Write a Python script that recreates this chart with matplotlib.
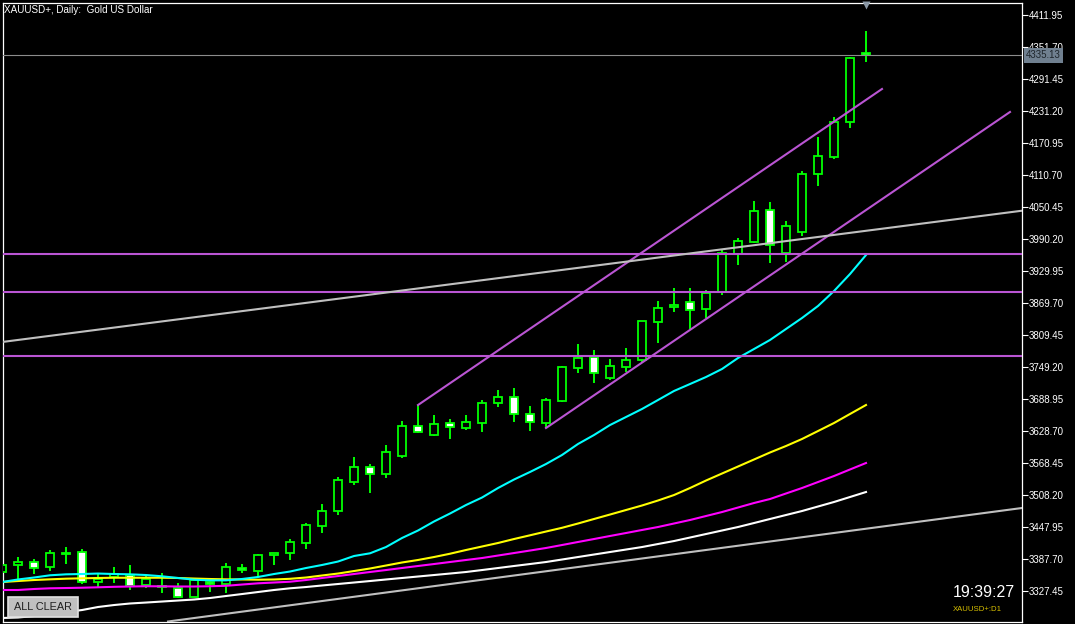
import matplotlib
matplotlib.use('Agg')
import numpy as np
import matplotlib.pyplot as plt
from matplotlib.patches import Rectangle

SANS = ['Liberation Sans', 'DejaVu Sans']

# daily OHLC (bar 0 is the half-hidden one on the left)
opens = [3362.7, 3375.3, 3382.1, 3371.5, 3397.9, 3399.8, 3343.3, 3353.8, 3357.0, 3338.2,
         3335.0, 3333.1, 3316.2, 3344.4, 3339.5, 3370.8, 3365.1, 3394.1, 3398.4, 3417.8,
         3449.8, 3478.1, 3532.7, 3560.9, 3547.8, 3581.6, 3637.0, 3621.2, 3642.6, 3634.4,
         3643.8, 3681.4, 3691.6, 3659.6, 3642.6, 3685.2, 3746.2, 3768.0, 3727.4, 3749.2,
         3761.8, 3833.9, 3861.0, 3870.5, 3857.3, 3889.3, 3960.8, 3984.6, 4043.7, 3962.7,
         4002.3, 4111.5, 4143.5, 4209.4, 4339.8]
highs = [3381.5, 3391.5, 3386.6, 3404.1, 3410.3, 3406.0, 3360.8, 3371.5, 3375.8, 3357.0,
         3360.2, 3342.5, 3349.5, 3351.9, 3379.1, 3377.2, 3396.6, 3399.0, 3424.8, 3454.4,
         3490.7, 3541.0, 3578.6, 3565.5, 3601.2, 3646.4, 3677.1, 3658.3, 3650.7, 3658.3,
         3686.5, 3705.3, 3709.1, 3675.2, 3690.3, 3750.5, 3791.9, 3780.7, 3763.7, 3783.9,
         3835.2, 3872.9, 3897.4, 3897.4, 3893.6, 3968.9, 3991.5, 4061.2, 4059.3, 4023.5,
         4117.7, 4181.7, 4219.9, 4331.8, 4381.3]
lows = [3357.0, 3348.9, 3358.3, 3365.1, 3377.7, 3340.6, 3335.0, 3342.5, 3328.8, 3332.5,
        3323.7, 3314.3, 3315.0, 3325.6, 3322.6, 3360.2, 3353.8, 3375.8, 3385.3, 3405.4,
        3436.7, 3470.0, 3526.5, 3512.0, 3540.2, 3577.9, 3625.3, 3619.3, 3613.1, 3630.0,
        3626.8, 3673.9, 3645.7, 3628.7, 3634.4, 3682.7, 3736.8, 3718.0, 3724.2, 3739.8,
        3755.6, 3793.3, 3852.8, 3820.8, 3840.3, 3884.2, 3940.7, 3981.5, 3945.0, 3946.9,
        3995.9, 4090.0, 4140.8, 4199.2, 4323.5]
closes = [3375.8, 3380.9, 3369.6, 3397.9, 3397.3, 3343.3, 3348.9, 3358.3, 3336.3, 3348.9,
          3336.3, 3316.2, 3347.6, 3339.5, 3371.5, 3365.9, 3394.7, 3397.9, 3419.2, 3450.6,
          3477.0, 3535.9, 3559.8, 3546.6, 3588.0, 3637.0, 3626.8, 3640.8, 3635.1, 3644.5,
          3680.3, 3691.6, 3659.6, 3644.5, 3685.9, 3748.1, 3765.0, 3736.8, 3750.0, 3761.3,
          3834.7, 3859.2, 3864.8, 3855.4, 3887.4, 3962.7, 3985.3, 4042.4, 3978.3, 4013.5,
          4112.0, 4145.4, 4209.9, 4329.9, 4335.13]

# moving averages, one value per bar
ma_cyan = [3343.8, 3348.6, 3352.3, 3356.5, 3358.3, 3358.9, 3359.8, 3358.9, 3358.3, 3357.0,
           3354.6, 3351.4, 3348.2, 3347.0, 3347.0, 3349.5, 3353.3, 3358.9, 3363.6, 3370.2,
           3375.9, 3382.4, 3392.8, 3397.9, 3409.7, 3426.7, 3440.8, 3457.8, 3472.8, 3488.8,
           3502.9, 3520.8, 3536.8, 3551.0, 3566.0, 3583.0, 3603.7, 3620.6, 3639.4, 3654.5,
           3669.6, 3686.5, 3703.5, 3716.6, 3729.8, 3744.9, 3765.6, 3782.5, 3799.5, 3820.2,
           3840.9, 3863.5, 3891.7, 3923.7, 3959.5]
ma_yellow = [3343.8, 3345.7, 3347.6, 3348.9, 3350.1, 3350.8, 3351.4, 3351.9, 3351.9, 3351.9,
             3351.9, 3351.4, 3350.4, 3349.5, 3348.9, 3348.6, 3348.2, 3348.6, 3349.9, 3352.3,
             3356.1, 3359.8, 3364.5, 3369.3, 3374.9, 3380.6, 3385.3, 3390.9, 3397.1, 3404.1,
             3410.7, 3417.3, 3424.8, 3431.8, 3438.9, 3445.9, 3454.0, 3462.5, 3470.9, 3479.4,
             3487.9, 3497.3, 3507.6, 3520.8, 3534.9, 3548.1, 3561.3, 3574.5, 3587.7, 3599.9,
             3613.1, 3628.1, 3643.2, 3660.2, 3677.1]
ma_magenta = [3328.8, 3328.8, 3330.7, 3332.0, 3332.5, 3333.1, 3333.9, 3334.8, 3335.4, 3335.9,
              3335.7, 3335.4, 3335.4, 3335.9, 3336.7, 3339.1, 3341.4, 3342.9, 3344.4, 3347.6,
              3351.4, 3355.1, 3358.9, 3362.7, 3366.4, 3370.2, 3374.0, 3377.7, 3381.5, 3385.3,
              3389.0, 3393.7, 3398.4, 3403.1, 3407.9, 3413.5, 3419.2, 3424.8, 3430.5, 3436.1,
              3441.8, 3447.4, 3454.0, 3460.6, 3468.1, 3475.6, 3484.1, 3492.6, 3500.1, 3510.5,
              3520.8, 3532.1, 3543.4, 3555.7, 3567.9]
ma_white = [3276.1, 3277.0, 3279.8, 3283.6, 3287.4, 3291.1, 3296.8, 3300.5, 3303.4, 3305.2,
            3307.1, 3309.0, 3310.9, 3313.7, 3317.5, 3321.2, 3325.0, 3328.8, 3332.0, 3334.4,
            3337.3, 3340.1, 3342.9, 3345.7, 3348.6, 3351.4, 3354.2, 3357.0, 3359.8, 3362.7,
            3366.4, 3370.2, 3374.0, 3377.7, 3381.5, 3386.2, 3390.9, 3395.6, 3400.3, 3405.0,
            3409.7, 3415.4, 3421.0, 3427.6, 3434.2, 3440.8, 3447.4, 3454.9, 3462.5, 3470.0,
            3477.5, 3486.0, 3494.5, 3503.9, 3513.3]

# drawn objects: (bar, price) anchor pairs
trend_upper = [(0, 3795.7), (63.75, 4042.9)]
trend_lower = [(10.125, 3268.5), (63.75, 3483.2)]
channel_top = [(26, 3677.1), (55, 4272.1)]
channel_bottom = [(34, 3633.8), (63, 4228.8)]
levels = [3961.4, 3889.9, 3769.9]
last_price = 4335.13

price_ticks = [4411.95, 4351.70, 4291.45, 4231.20, 4170.95, 4110.70, 4050.45, 3990.20,
               3929.95, 3869.70, 3809.45, 3749.20, 3688.95, 3628.70, 3568.45, 3508.20,
               3447.95, 3387.70, 3327.45]

W, H = 1075, 624
fig = plt.figure(figsize=(W / 100, H / 100), dpi=100, facecolor='black')
ax = fig.add_axes([2.5 / W, 2.5 / H, 1019.5 / W, 619 / H], facecolor='black')
ax.set_xlim(0.03, 63.75)
ax.set_ylim(3269.5, 4434.9)

x = np.arange(len(opens))
o = np.array(opens)
c = np.array(closes)
face = np.where(c >= o, 'black', 'white')
green = '#00ff00'
ax.vlines(x, lows, highs, color=green, lw=1.4, zorder=2)
ax.bar(x, np.maximum(np.abs(c - o), 0.4), bottom=np.minimum(o, c), width=0.55,
       color=face, edgecolor=green, linewidth=1.3, zorder=3)

for vals, col in [(ma_white, 'white'), (ma_magenta, '#ff00ff'),
                  (ma_yellow, '#ffff00'), (ma_cyan, '#00ffff')]:
    ax.plot(x, vals, color=col, lw=1.5, zorder=4)

for p in levels:
    ax.axhline(p, color='#ba55d3', lw=1.5, zorder=5)
for seg in (channel_top, channel_bottom):
    ax.plot([seg[0][0], seg[1][0]], [seg[0][1], seg[1][1]], color='#ba55d3', lw=1.5, zorder=5)
for seg in (trend_upper, trend_lower):
    ax.axline(seg[0], seg[1], color='#c0c0c0', lw=1.5, zorder=5)

ax.axhline(last_price, color='#8c8c8c', lw=0.8, zorder=5)
ax.plot([x[-1]], [4430.5], marker='v', ms=6, color='#8a98a6', mec='none', clip_on=False, zorder=6)
ax.annotate(f'{last_price:.2f}', xy=(1, last_price), xycoords=('axes fraction', 'data'),
            xytext=(4, 0), textcoords='offset pixels', ha='left', va='center',
            fontsize=7, family=SANS, color='#1e252b', annotation_clip=False, zorder=10,
            bbox=dict(boxstyle='square,pad=0.22', fc='#708090', ec='none'))

ax.yaxis.tick_right()
ax.set_yticks(price_ticks)
ax.set_yticklabels([f'{v:.2f}' for v in price_ticks])
ax.tick_params(axis='y', colors='white', length=4, width=0.8, pad=1, labelsize=7)
for lbl in ax.get_yticklabels():
    lbl.set_family(SANS)
ax.set_xticks([])
for s in ax.spines.values():
    s.set_color('white')
    s.set_linewidth(0.9)

fig.text(4 / W, 1 - 9.7 / H, 'XAUUSD+, Daily:  Gold US Dollar', color='white',
         fontsize=7.1, family=SANS, ha='left', va='center')

fig.add_artist(Rectangle((8 / W, 1 - 616.7 / H), 70 / W, 20 / H, transform=fig.transFigure,
                         fc='#c0c0c0', ec='#e0e0e0', lw=1.2, zorder=10))
fig.text(43 / W, 1 - 606.9 / H, 'ALL CLEAR', color='#1e1e1e', fontsize=7.8, family=SANS,
         ha='center', va='center', zorder=11)

fig.text(1015 / W, 1 - 592.5 / H, '19:39:27', color='white', fontsize=11.5, family=SANS,
         ha='right', va='center')
fig.text(953 / W, 1 - 609.5 / H, 'XAUUSD+:D1', color='#d8c000', fontsize=5.6, family=SANS,
         ha='left', va='center')

fig.savefig('out.png', dpi=100, facecolor='black')
